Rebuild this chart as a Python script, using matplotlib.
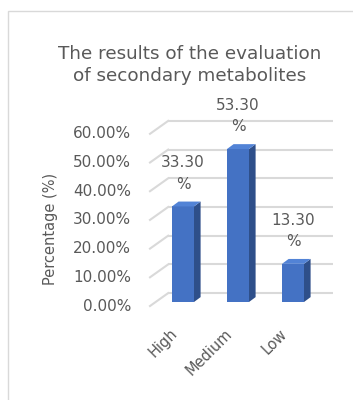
import numpy as np
import matplotlib
matplotlib.use('Agg')
import matplotlib.pyplot as plt
from matplotlib.patches import Polygon, Rectangle

# data
categories = ['High', 'Medium', 'Low']
values = [33.30, 53.30, 13.30]
y_ticks = [0, 10, 20, 30, 40, 50, 60]

TEXT = '#595959'
GRID = '#D9D9D9'
FRONT = '#4472C4'
SIDE = '#2E4F8A'
TOP = '#5283D6'

# pseudo-3d depth offsets (data units)
DX_BACK, DY_BACK = 0.23, 3.1
DX_FLOOR, DY_FLOOR = -0.1, -1.4
DX_BAR, DY_BAR = 0.12, 1.7
W = 0.4

fig = plt.figure(figsize=(3.53, 4.0), dpi=100)
ax = fig.add_axes([0, 0, 1, 1])
# 1 x unit = 55 px, 1 y unit = 2.87 px
ax.set_xlim((0 - 183) / 55, (353 - 183) / 55)
ax.set_ylim((302 - 400) / 2.87, (302 - 0) / 2.87)
ax.set_axis_off()

# chart border
fig.patches.append(Rectangle((8 / 353, -0.1), 1.0, (400 - 11) / 400 + 0.1,
                             transform=fig.transFigure, fill=False,
                             edgecolor=GRID, lw=1.0))

x = np.arange(len(categories))
x0, x1 = x[0] - 0.5, x[-1] + 0.5

# gridlines on back wall + diagonal floor edges
for v in y_ticks:
    ax.plot([x0 + DX_BACK, x1 + DX_BACK], [v + DY_BACK, v + DY_BACK],
            color=GRID, lw=1.5, zorder=1, solid_capstyle='butt')
    ax.plot([x0 + DX_FLOOR, x0 + DX_BACK], [v + DY_FLOOR, v + DY_BACK],
            color=GRID, lw=1.5, zorder=1)
    ax.text(-0.945, v + DY_FLOOR, '{:.2f}%'.format(v), ha='right', va='center',
            fontsize=11, color=TEXT)

# bars
ax.bar(x, values, width=W, color=FRONT, zorder=3)
for xi, v in zip(x, values):
    side = [(xi + W / 2, 0), (xi + W / 2 + DX_BAR, DY_BAR),
            (xi + W / 2 + DX_BAR, v + DY_BAR), (xi + W / 2, v)]
    top = [(xi - W / 2, v), (xi + W / 2, v),
           (xi + W / 2 + DX_BAR, v + DY_BAR), (xi - W / 2 + DX_BAR, v + DY_BAR)]
    ax.add_patch(Polygon(side, closed=True, facecolor=SIDE, edgecolor='none', zorder=3))
    ax.add_patch(Polygon(top, closed=True, facecolor=TOP, edgecolor='none', zorder=3))
    ax.text(xi, v + 11.5, '{:.2f}\n%'.format(v), ha='center', va='center',
            fontsize=11, color=TEXT, linespacing=1.55)

# category labels
for xi, c in zip(x, categories):
    ax.text(xi - 0.05, -8.4, c, rotation=45, ha='right', va='top',
            fontsize=10.5, color=TEXT)

fig.text(50 / 353, 1 - 229 / 400, 'Percentage (%)', rotation=90,
         ha='center', va='center', fontsize=10.5, color=TEXT)
fig.text(190 / 353, 1 - 65 / 400,
         'The results of the evaluation\nof secondary metabolites',
         ha='center', va='center', fontsize=13.2, color=TEXT, linespacing=1.3)

fig.savefig('out.png', dpi=100, facecolor='white')
